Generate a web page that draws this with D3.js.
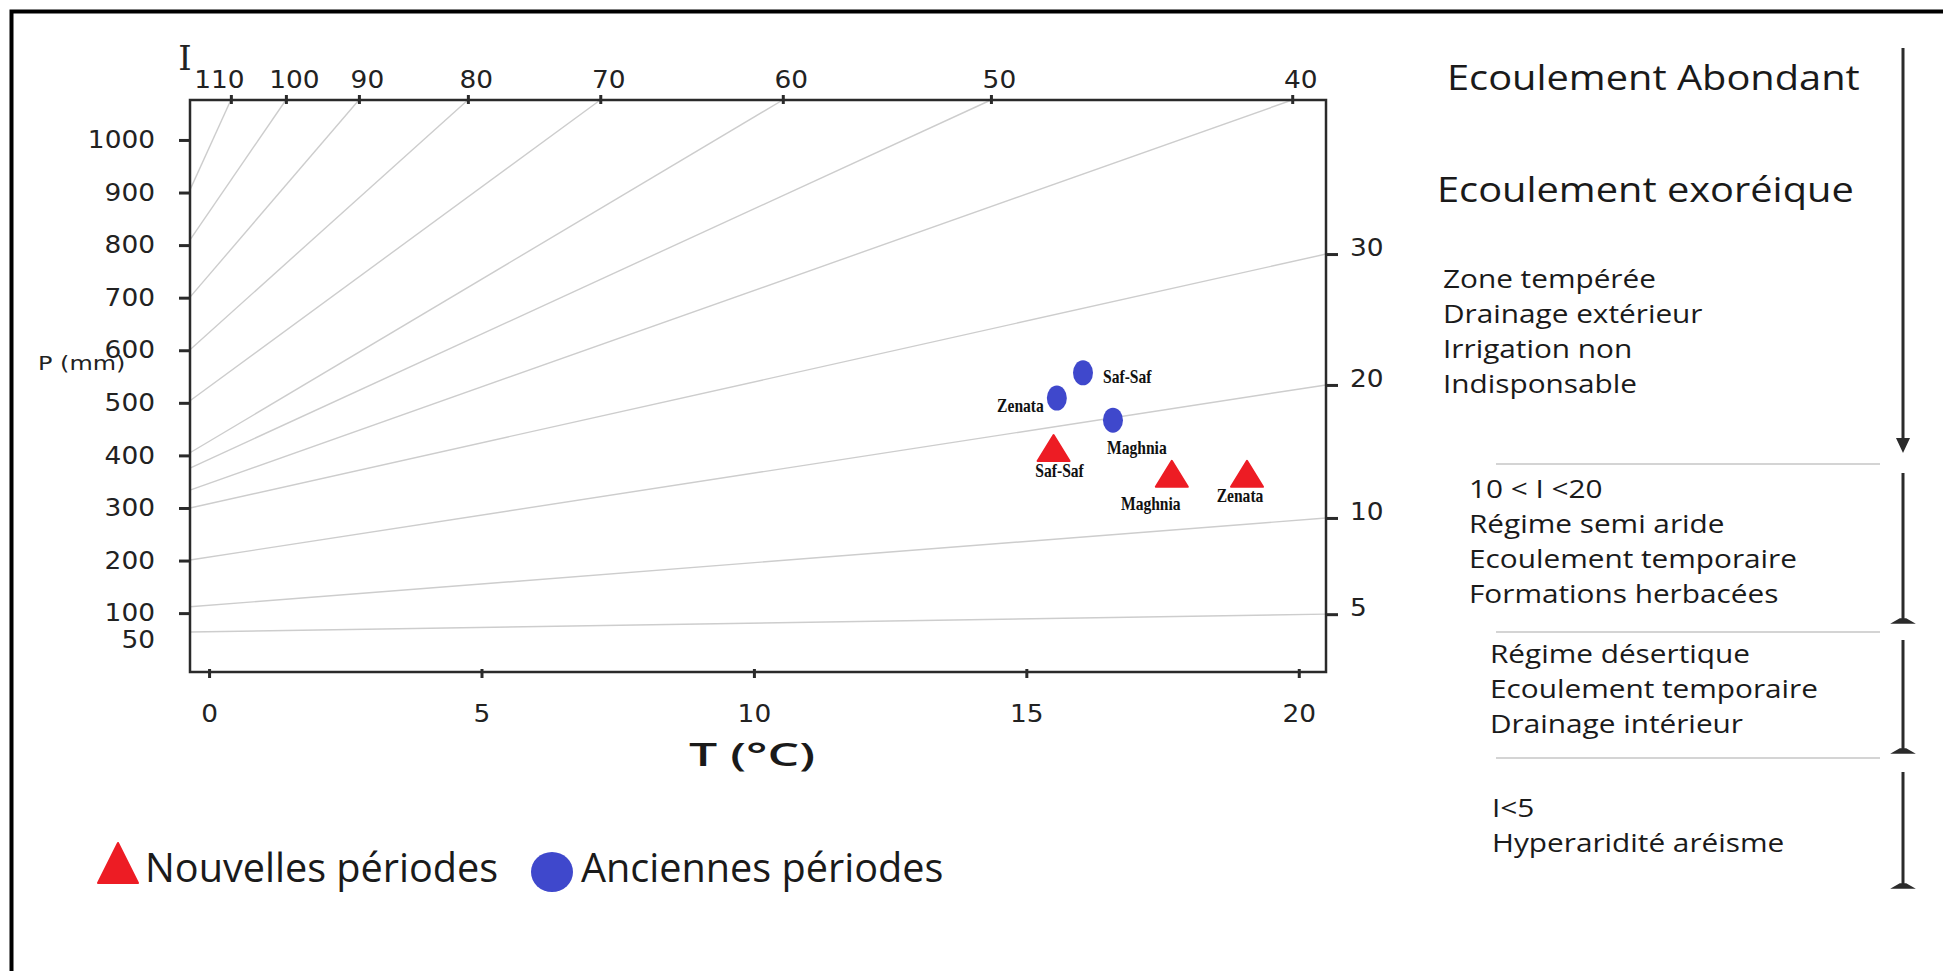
<!DOCTYPE html>
<html>
<head>
<meta charset="utf-8">
<script src="https://cdn.jsdelivr.net/npm/d3@7"></script>
<style>
body { margin: 0; background: #fff; }
svg { display: block; background: #fff; }
.num { font-family: 'DejaVu Sans', sans-serif; font-size: 24px; fill: #222; }
.comic { font-family: 'Open Sans', sans-serif; fill: #1a1a1a; }
.stn { font-family: 'Liberation Serif', serif; font-weight: bold; font-size: 19px; fill: #111; }
</style>
</head>
<body>
<svg></svg>
<script>
// ---- values ----
const tempTicks = [0, 5, 10, 15, 20];
const precipTicks = [50, 100, 200, 300, 400, 500, 600, 700, 800, 900, 1000];

// aridity index lines: start on the P axis, end on the top or the right edge
const isoIndex  = [110, 100, 90, 80, 70, 60, 50, 40, 30, 20, 10, 5];
const isoStartP = [905, 810, 701, 601, 504, 405, 376, 334, 300, 201, 112, 64];
const isoEndT   = [0.40, 1.41, 2.75, 4.75, 7.18, 10.53, 14.35, 19.88, 20.5, 20.5, 20.5, 20.5];
const isoEndP   = [1076, 1076, 1076, 1076, 1076, 1076, 1076, 1076, 783, 534, 281, 98];

const stations = ['Saf-Saf', 'Zenata', 'Maghnia'];
const oldT = [16.04, 15.56, 16.59];   // anciennes périodes
const oldP = [557, 509, 467];
const newT = [15.50, 19.05, 17.67];   // nouvelles périodes
const newP = [414, 365, 365];

const legendLabels = ['Nouvelles périodes', 'Anciennes périodes'];
const headNotes = ['Ecoulement Abondant', 'Ecoulement exoréique'];
const zoneNotes = [
  ['Zone tempérée', 'Drainage extérieur', 'Irrigation non', 'Indisponsable'],
  ['10 < I <20', 'Régime semi aride', 'Ecoulement temporaire', 'Formations herbacées'],
  ['Régime désertique', 'Ecoulement temporaire', 'Drainage intérieur'],
  ['I<5', 'Hyperaridité aréisme']
];

const RED = '#ed1c24', BLUE = '#3f48cc', AXIS = '#2a2a2a';
const size = {w: 1943, h: 971};
const svg = d3.select('svg').attr('width', size.w).attr('height', size.h);

// widen text like the scanned original
function stretch(sel, k) {
  sel.each(function () {
    const w = this.getComputedTextLength();
    d3.select(this).attr('textLength', w * k).attr('lengthAdjust', 'spacingAndGlyphs');
  });
}

// outer frame (top + left only)
svg.append('path')
  .attr('d', `M11.5,${size.h} V11.5 H${size.w}`)
  .attr('fill', 'none').attr('stroke', '#000').attr('stroke-width', 4);

// scales
const x = d3.scaleLinear().domain([-0.35, 20.5]).range([190, 1326]);
const y = d3.scaleLinear().domain([-12, 1076]).range([672, 100]);

// ---- iso-index lines ----
const isoG = svg.append('g').classed('iso', true);
isoG.selectAll('line')
  .data(isoIndex)
  .join('line')
  .attr('x1', x(x.domain()[0]))
  .attr('y1', (d, i) => y(isoStartP[i]))
  .attr('x2', (d, i) => x(isoEndT[i]))
  .attr('y2', (d, i) => y(isoEndP[i]))
  .attr('stroke', '#cdcdcd')
  .attr('stroke-width', 1.4);

// ---- axes ----
function styleAxis(g) {
  g.select('.domain').remove();
  g.selectAll('.tick line').attr('stroke', AXIS).attr('stroke-width', 3);
  g.selectAll('.tick text').attr('class', 'num').attr('font-family', null).attr('font-size', null);
}

const leftG = svg.append('g')
  .attr('transform', `translate(${x.range()[0]},0)`)
  .call(d3.axisLeft(y).tickValues(precipTicks).tickSize(11).tickPadding(24).tickFormat(d3.format('d')))
  .call(styleAxis);
leftG.selectAll('.tick').filter(d => d === 50).select('line').remove();
stretch(leftG.selectAll('.tick text'), 1.1);

const bottomG = svg.append('g')
  .attr('transform', `translate(0,${y.range()[0]})`)
  .call(d3.axisBottom(x).tickValues(tempTicks).tickSize(6).tickPadding(27))
  .call(styleAxis);
bottomG.selectAll('.tick line').attr('y1', -3);
stretch(bottomG.selectAll('.tick text'), 1.1);

const topG = svg.append('g')
  .attr('transform', `translate(0,${y.range()[1]})`)
  .call(d3.axisTop(x).tickValues(isoEndT.slice(0, 8)).tickFormat((d, i) => isoIndex[i]).tickSize(5).tickPadding(7))
  .call(styleAxis);
topG.selectAll('.tick line').attr('y2', -5).attr('y1', 4);
// the crowded 110 label sits left of its tick, the others a little right
topG.selectAll('.tick text').attr('dx', (d, i) => i === 0 ? -12 : 8);
stretch(topG.selectAll('.tick text'), 1.1);

const rightG = svg.append('g')
  .attr('transform', `translate(${x.range()[1]},0)`)
  .call(d3.axisRight(y).tickValues(isoEndP.slice(8)).tickFormat((d, i) => isoIndex[8 + i]).tickSize(12).tickPadding(12))
  .call(styleAxis);
rightG.selectAll('.tick text').attr('dy', '0.05em');
stretch(rightG.selectAll('.tick text'), 1.1);

// plot box
svg.append('rect')
  .attr('x', x.range()[0]).attr('y', y.range()[1])
  .attr('width', x.range()[1] - x.range()[0])
  .attr('height', y.range()[0] - y.range()[1])
  .attr('fill', 'none').attr('stroke', AXIS).attr('stroke-width', 2.5);

// axis titles
svg.append('text')
  .attr('x', 185).attr('y', 70).attr('text-anchor', 'middle')
  .style('font-family', "'DejaVu Serif', serif").style('font-size', '34px').attr('fill', '#222')
  .text('I');
stretch(svg.append('text')
  .attr('x', 38).attr('y', 370).attr('class', 'num').style('font-size', '19px')
  .text('P (mm)'), 1.26);
svg.append('text')
  .attr('x', 752).attr('y', 766).attr('text-anchor', 'middle')
  .attr('class', 'comic').style('font-size', '33px').style('font-weight', 600)
  .attr('textLength', 126).attr('lengthAdjust', 'spacingAndGlyphs')
  .text('T (°C)');

// ---- stations ----
const tri = (w, h) => `M0,${-h / 2} L${w / 2},${h / 2} L${-w / 2},${h / 2} Z`;

const ptG = svg.append('g').classed('points', true);
ptG.selectAll('ellipse')
  .data(stations)
  .join('ellipse')
  .attr('cx', (d, i) => x(oldT[i]))
  .attr('cy', (d, i) => y(oldP[i]))
  .attr('rx', 10).attr('ry', 12.5)
  .attr('fill', BLUE);

ptG.selectAll('path')
  .data(stations)
  .join('path')
  .attr('transform', (d, i) => `translate(${x(newT[i])},${y(newP[i])})`)
  .attr('d', tri(32, 26))
  .attr('fill', RED)
  .attr('stroke', RED).attr('stroke-width', 2).attr('stroke-linejoin', 'round');

// label offsets from each marker [dx, dy, anchor]
const oldLabelPos = [[20, 10, 'start'], [-13, 14, 'end'], [-6, 34, 'start']];
const newLabelPos = [[6, 29, 'middle'], [-7, 28, 'middle'], [-21, 36, 'middle']];

const oldLbl = ptG.selectAll('text.old')
  .data(stations)
  .join('text').attr('class', 'stn old')
  .attr('x', (d, i) => x(oldT[i]) + oldLabelPos[i][0])
  .attr('y', (d, i) => y(oldP[i]) + oldLabelPos[i][1])
  .attr('text-anchor', (d, i) => oldLabelPos[i][2])
  .text(d => d);
stretch(oldLbl, 0.82);

const newLbl = ptG.selectAll('text.new')
  .data(stations)
  .join('text').attr('class', 'stn new')
  .attr('x', (d, i) => x(newT[i]) + newLabelPos[i][0])
  .attr('y', (d, i) => y(newP[i]) + newLabelPos[i][1])
  .attr('text-anchor', (d, i) => newLabelPos[i][2])
  .text(d => d);
stretch(newLbl, 0.82);

// ---- legend ----
const legG = svg.append('g').classed('legend', true);
legG.append('path')
  .attr('transform', 'translate(118,863)')
  .attr('d', tri(40, 40))
  .attr('fill', RED).attr('stroke', RED).attr('stroke-width', 2).attr('stroke-linejoin', 'round');
legG.append('ellipse')
  .attr('cx', 552).attr('cy', 872).attr('rx', 21).attr('ry', 20)
  .attr('fill', BLUE);
const legX = [145, 581];
stretch(legG.selectAll('text')
  .data(legendLabels)
  .join('text')
  .attr('class', 'comic')
  .attr('x', (d, i) => legX[i]).attr('y', 882)
  .style('font-size', '40px')
  .text(d => d), 0.99);

// ---- right-hand notes ----
const noteG = svg.append('g').classed('notes', true);
const headX = [1447, 1437], headY = [90, 202];
stretch(noteG.selectAll('text.head')
  .data(headNotes)
  .join('text').attr('class', 'comic head')
  .attr('x', (d, i) => headX[i]).attr('y', (d, i) => headY[i])
  .style('font-size', '34px')
  .text(d => d), 1.17);

const blockX = [1443, 1469, 1490, 1492];
const blockY = [288, 498, 663, 817];
zoneNotes.forEach((lines, b) => {
  stretch(noteG.selectAll(`text.z${b}`)
    .data(lines)
    .join('text').attr('class', `comic z${b}`)
    .attr('x', blockX[b])
    .attr('y', (d, i) => blockY[b] + i * 35)
    .style('font-size', '25px')
    .text(d => d), 1.19);
});

// separators
const sepY = [464, 632, 758];
noteG.selectAll('line.sep')
  .data(sepY)
  .join('line').attr('class', 'sep')
  .attr('x1', 1496).attr('x2', 1880)
  .attr('y1', d => d).attr('y2', d => d)
  .attr('stroke', '#d4d4d4').attr('stroke-width', 2);

// arrows
const arrowSpans = [[48, 453], [473, 623], [640, 753], [772, 888]];
const arrowX = 1903;
noteG.selectAll('line.arrow')
  .data(arrowSpans)
  .join('line').attr('class', 'arrow')
  .attr('x1', arrowX).attr('x2', arrowX)
  .attr('y1', d => d[0]).attr('y2', (d, i) => i === 0 ? d[1] - 12 : d[1])
  .attr('stroke', '#2b2b2b').attr('stroke-width', 3);
noteG.append('path')
  .attr('d', `M${arrowX - 7},${arrowSpans[0][1] - 15} L${arrowX + 7},${arrowSpans[0][1] - 15} L${arrowX},${arrowSpans[0][1]} Z`)
  .attr('fill', '#2b2b2b');
noteG.selectAll('path.foot')
  .data(arrowSpans.slice(1))
  .join('path').attr('class', 'foot')
  .attr('d', d => `M${arrowX - 10},${d[1]} L${arrowX + 10},${d[1]} L${arrowX + 3},${d[1] - 4} L${arrowX - 3},${d[1] - 4} Z`)
  .attr('fill', '#2b2b2b').attr('stroke', '#2b2b2b').attr('stroke-width', 1.5);
</script>
</body>
</html>
